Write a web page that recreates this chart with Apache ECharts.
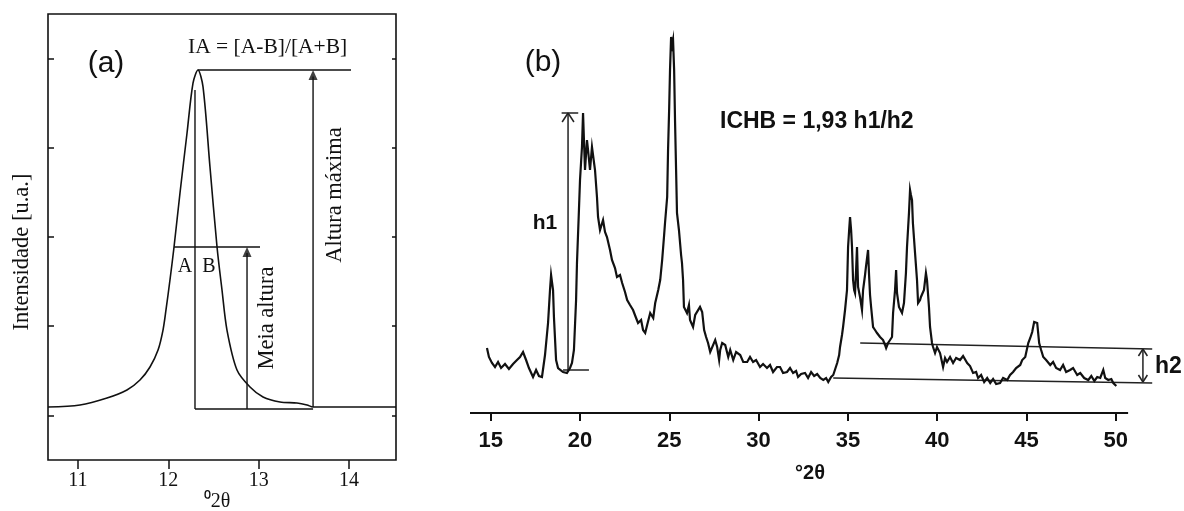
<!DOCTYPE html>
<html><head><meta charset="utf-8">
<script src="https://cdn.jsdelivr.net/npm/echarts@6/dist/echarts.min.js"></script>
<style>html,body{margin:0;padding:0;background:#fff}#c{width:1184px;height:511px}</style>
</head><body><div id="c"></div>
<script>
// ---------- data ----------
const ticksA = [11, 12, 13, 14];
const ticksB = [15, 20, 25, 30, 35, 40, 45, 50];
const yTicksA = [0, 1, 2, 3, 4];
// panel (a): peak profile [2theta, intensity]
const peakA = [[10.668,0.094],[11.022,0.117],[11.321,0.195],[11.542,0.285],[11.686,0.397],[11.797,0.543],[11.886,0.733],[11.941,0.957],[11.974,1.182],[12.018,1.518],[12.063,1.888],[12.129,2.493],[12.207,3.166],[12.273,3.726],[12.328,3.872],[12.384,3.682],[12.461,2.785],[12.539,1.888],[12.594,1.406],[12.649,0.957],[12.760,0.509],[12.904,0.318],[13.048,0.206],[13.236,0.150],[13.424,0.139],[13.535,0.117],[13.602,0.094],[14.52,0.094]];
// panel (b): diffractogram [2theta, intensity]
const xrdB = [[14.79,65],[14.90,56],[15.07,50],[15.24,46],[15.41,51],[15.58,45],[15.80,49],[16.02,44],[16.25,49],[16.47,53],[16.64,56],[16.81,61],[16.98,53],[17.14,45],[17.37,36],[17.54,43],[17.70,37],[17.87,36],[18.04,58],[18.21,90],[18.32,123],[18.38,138],[18.49,123],[18.54,96],[18.66,53],[18.77,45],[18.88,43],[19.05,41],[19.27,40],[19.44,45],[19.55,50],[19.66,63],[19.78,113],[19.83,150],[19.94,203],[20.00,233],[20.11,266],[20.17,300],[20.22,273],[20.28,243],[20.39,273],[20.45,263],[20.56,243],[20.67,266],[20.84,243],[20.95,216],[21.01,196],[21.12,183],[21.29,193],[21.40,181],[21.51,176],[21.68,163],[21.79,153],[21.96,145],[22.07,136],[22.24,138],[22.36,130],[22.52,121],[22.64,113],[22.80,108],[22.97,103],[23.14,95],[23.25,90],[23.42,93],[23.53,83],[23.65,80],[23.76,88],[23.93,100],[24.10,95],[24.21,110],[24.38,123],[24.49,133],[24.60,153],[24.71,178],[24.76,190],[24.88,216],[24.93,263],[24.99,303],[25.04,343],[25.10,376],[25.16,368],[25.21,373],[25.27,343],[25.32,293],[25.38,243],[25.43,200],[25.54,183],[25.66,158],[25.71,150],[25.77,133],[25.82,106],[25.99,100],[26.10,108],[26.16,93],[26.33,86],[26.45,98],[26.56,100],[26.72,106],[26.84,101],[26.95,83],[27.06,76],[27.17,70],[27.29,61],[27.40,63],[27.57,73],[27.68,66],[27.79,53],[27.85,63],[27.96,70],[28.13,68],[28.30,56],[28.41,63],[28.58,53],[28.74,61],[28.97,58],[29.14,51],[29.36,51],[29.52,56],[29.69,51],[29.86,53],[30.08,46],[30.25,49],[30.47,45],[30.64,48],[30.81,41],[31.03,46],[31.20,46],[31.37,40],[31.59,41],[31.76,45],[31.93,40],[32.10,42],[32.21,36],[32.38,39],[32.60,40],[32.77,35],[32.94,41],[33.11,37],[33.28,39],[33.45,35],[33.62,33],[33.78,35],[33.90,31],[34.06,36],[34.18,38],[34.29,44],[34.40,50],[34.51,58],[34.56,66],[34.67,78],[34.73,86],[34.84,103],[34.95,123],[35.01,166],[35.07,183],[35.12,196],[35.18,183],[35.23,166],[35.29,133],[35.35,123],[35.40,120],[35.46,143],[35.51,166],[35.57,126],[35.68,116],[35.79,103],[35.85,123],[35.96,138],[36.01,146],[36.13,163],[36.18,140],[36.24,118],[36.30,106],[36.41,86],[36.52,83],[36.63,80],[36.80,76],[36.97,73],[37.08,68],[37.14,65],[37.25,70],[37.36,73],[37.47,76],[37.53,100],[37.64,123],[37.70,143],[37.75,120],[37.86,106],[38.03,100],[38.14,110],[38.25,140],[38.31,166],[38.42,200],[38.48,223],[38.53,218],[38.59,213],[38.64,190],[38.76,160],[38.87,133],[38.93,110],[39.04,113],[39.09,116],[39.26,123],[39.37,140],[39.43,133],[39.54,106],[39.60,86],[39.71,70],[39.77,66],[39.88,60],[39.99,66],[40.16,60],[40.33,46],[40.44,55],[40.55,51],[40.72,56],[40.89,50],[41.06,55],[41.28,53],[41.45,57],[41.68,50],[41.84,47],[42.01,40],[42.18,41],[42.29,35],[42.46,38],[42.63,31],[42.80,35],[42.97,30],[43.13,34],[43.30,29],[43.52,30],[43.69,35],[43.92,33],[44.08,38],[44.25,41],[44.42,45],[44.65,48],[44.76,53],[44.93,56],[45.10,70],[45.21,75],[45.32,81],[45.43,91],[45.54,91],[45.60,90],[45.71,70],[45.82,63],[45.94,56],[46.10,53],[46.33,48],[46.49,51],[46.66,45],[46.88,43],[47.05,48],[47.22,41],[47.44,43],[47.61,45],[47.84,38],[48.01,40],[48.23,35],[48.46,33],[48.63,37],[48.80,32],[48.96,36],[49.13,35],[49.30,43],[49.41,35],[49.58,33],[49.75,34],[49.86,30],[50.03,27]];
// annotation segments [x1,y1,x2,y2] in data units
const segA = [[12.328,3.872,14.022,3.872],[13.602,0.094,13.602,3.80],[12.063,1.888,13.015,1.888],[12.871,0.072,12.871,1.82],[12.295,3.648,12.295,0.072],[12.295,0.072,13.602,0.072]];
const arrowTipsA = [[13.602,3.872],[12.871,1.888]];
const segB = [[18.97,300,19.90,300],[19.33,41,19.33,300],[19.33,300,19.0,291],[19.33,300,19.66,291],[19.05,43,20.50,43],[34.18,35,52.04,30],[35.69,70,52.04,64],[51.52,31,51.52,64],[51.52,64,51.27,57],[51.52,64,51.77,57],[51.52,31,51.27,38],[51.52,31,51.77,38]];
const axisLineB = [[13.84,0],[50.69,0]];

// ---------- chart ----------
const INK = '#111';
const serif = 'Liberation Serif';
const sansB = 'Liberation Sans';
function seg(xi, yi, s, w, col) {
  return {type:'line', xAxisIndex:xi, yAxisIndex:yi, data:[[s[0],s[1]],[s[2],s[3]]], showSymbol:false, symbol:'none', clip:false, silent:true,
    lineStyle:{color:col||INK, width:w||1.4}, z:3};
}
const series = [
  {type:'line', xAxisIndex:0, yAxisIndex:0, data:peakA, smooth:0.3, showSymbol:false, symbol:'none', clip:false, lineStyle:{color:INK, width:1.6}, z:4},
  {type:'scatter', xAxisIndex:0, yAxisIndex:0, data:arrowTipsA, symbol:'triangle', symbolSize:[9,10], symbolOffset:[0,5], itemStyle:{color:INK}, clip:false, z:5},
  {type:'line', xAxisIndex:1, yAxisIndex:2, data:xrdB, showSymbol:false, symbol:'none', clip:false, lineStyle:{color:INK, width:2.2, join:'miter'}, z:4},
  {type:'line', xAxisIndex:1, yAxisIndex:2, data:axisLineB, showSymbol:false, symbol:'none', clip:false, lineStyle:{color:INK, width:2}, z:3}
];
segA.forEach(s => series.push(seg(0, 0, s, 1.4)));
segB.forEach(s => series.push(seg(1, 2, s, 1.5, '#222')));

const option = {
  backgroundColor:'#fff',
  animation:false,
  grid:[
    {left:48, top:14, width:348, height:446, show:true, borderColor:INK, borderWidth:1.6, backgroundColor:'transparent'},
    {left:470, top:20, right:0, bottom:98}
  ],
  xAxis:[
    {type:'value', gridIndex:0, min:10.668, max:14.52, position:'bottom', axisLine:{show:false, onZero:false}, splitLine:{show:false},
     axisTick:{show:true, inside:false, length:9, customValues:ticksA, lineStyle:{color:INK, width:1.5}},
     axisLabel:{customValues:ticksA, margin:11, color:INK, fontFamily:serif, fontSize:20}},
    {type:'value', gridIndex:1, min:13.84, max:53.82, position:'bottom', axisLine:{show:false, onZero:false}, splitLine:{show:false},
     axisTick:{show:true, inside:false, length:8, customValues:ticksB, lineStyle:{color:INK, width:2}},
     axisLabel:{customValues:ticksB, margin:17, color:INK, fontFamily:sansB, fontWeight:'bold', fontSize:22}}
  ],
  yAxis:[
    {type:'value', gridIndex:0, min:-0.5, max:4.5, position:'left', axisLine:{show:false, onZero:false}, splitLine:{show:false},
     axisTick:{show:true, inside:true, length:6, customValues:yTicksA, lineStyle:{color:INK, width:1.5}}, axisLabel:{show:false}},
    {type:'value', gridIndex:0, min:-0.5, max:4.5, position:'right', axisLine:{show:false, onZero:false}, splitLine:{show:false},
     axisTick:{show:true, inside:true, length:4, customValues:yTicksA, lineStyle:{color:INK, width:1.5}}, axisLabel:{show:false}},
    {type:'value', gridIndex:1, min:0, max:393, show:false}
  ],
  series:series,
  graphic:[
    {type:'text', x:106, y:64, style:{text:'(a)', font:'30px "Liberation Sans"', fill:INK, textAlign:'center', textVerticalAlign:'middle'}},
    {type:'text', x:188, y:47, style:{text:'IA = [A-B]/[A+B]', font:'21.5px "Liberation Serif"', fill:INK, textAlign:'left', textVerticalAlign:'middle'}},
    {type:'text', x:335, y:195, rotation:Math.PI/2, style:{text:'Altura máxima', font:'22.5px "Liberation Serif"', fill:INK, textAlign:'center', textVerticalAlign:'middle'}},
    {type:'text', x:267, y:318, rotation:Math.PI/2, style:{text:'Meia altura', font:'22.5px "Liberation Serif"', fill:INK, textAlign:'center', textVerticalAlign:'middle'}},
    {type:'text', x:185, y:267, style:{text:'A', font:'20px "Liberation Serif"', fill:INK, textAlign:'center', textVerticalAlign:'middle'}},
    {type:'text', x:209, y:267, style:{text:'B', font:'20px "Liberation Serif"', fill:INK, textAlign:'center', textVerticalAlign:'middle'}},
    {type:'text', x:22, y:252, rotation:Math.PI/2, style:{text:'Intensidade [u.a.]', font:'22.5px "Liberation Serif"', fill:INK, textAlign:'center', textVerticalAlign:'middle'}},
    {type:'text', x:217, y:502, style:{text:'⁰2θ', font:'20px "Liberation Serif"', fill:INK, textAlign:'center', textVerticalAlign:'middle'}},
    {type:'text', x:543, y:63, style:{text:'(b)', font:'30px "Liberation Sans"', fill:INK, textAlign:'center', textVerticalAlign:'middle'}},
    {type:'text', x:720, y:122, style:{text:'ICHB = 1,93 h1/h2', font:'bold 23px "Liberation Sans"', fill:INK, textAlign:'left', textVerticalAlign:'middle'}},
    {type:'text', x:545, y:223, style:{text:'h1', font:'bold 21px "Liberation Sans"', fill:INK, textAlign:'center', textVerticalAlign:'middle'}},
    {type:'text', x:1155, y:367, style:{text:'h2', font:'bold 23px "Liberation Sans"', fill:INK, textAlign:'left', textVerticalAlign:'middle'}},
    {type:'text', x:810, y:473, style:{text:'°2θ', font:'bold 20px "Liberation Sans"', fill:INK, textAlign:'center', textVerticalAlign:'middle'}}
  ]
};
const chart = echarts.init(document.getElementById('c'), null, {renderer:'canvas'});
chart.setOption(option);
</script>
</body></html>
